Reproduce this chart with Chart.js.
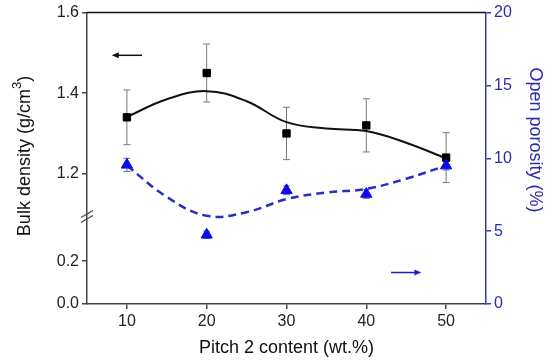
<!DOCTYPE html>
<html>
<head>
<meta charset="utf-8">
<script src="https://cdn.jsdelivr.net/npm/chart.js@4.4.1/dist/chart.umd.min.js"></script>
<style>
  html, body { margin: 0; padding: 0; background: #fff; }
  #wrap { position: relative; width: 550px; height: 362px; }
</style>
</head>
<body>
<div id="wrap"><canvas id="chart"></canvas></div>
<script>
// Measured points
const pitchContent = [10, 20, 30, 40, 50];
const bulkDensity = [1.34, 1.45, 1.30, 1.32, 1.24];
const bulkDensityErr = [0.068, 0.072, 0.065, 0.066, 0.062];
const openPorosity = [9.55, 4.75, 7.8, 7.55, 9.5];
const openPorosityErr = [0.45, 0.25, 0.3, 0.3, 0.3];

// Fitted curves
const fitX = [10, 15, 20, 25, 30, 35, 40, 45, 50];
const bulkDensityFit = [1.341, 1.385, 1.405, 1.380, 1.328, 1.312, 1.306, 1.277, 1.238];
const openPorosityFit = [9.5, 7.35, 6.05, 6.3, 7.2, 7.65, 7.9, 8.6, 9.5];

// Tick labels
const xTicks = [10, 20, 30, 40, 50];
const leftTickValues = [0, 0.2, 1.2, 1.4, 1.6];
const leftTickLabels = ['0.0', '0.2', '1.2', '1.4', '1.6'];
const rightTicks = [0, 5, 10, 15, 20];

// Direction arrows (which axis each series belongs to)
const bulkArrow = { from: 11.9, to: 8.1, y: 1.494 };
const porosityArrow = { from: 43.1, to: 46.9, y: 2.16 };

const FONT = '"Liberation Sans", Arial, sans-serif';
const BLUE_AXIS = '#3a3aa8';
const BLUE_TEXT = '#2b2bb0';

// Broken left axis: 0-0.4 lower part, 1.1-1.6 upper part
const AXIS_MAX = 293;
const BREAK_AT = 88;
function toAxis(d) {
  if (d <= 0.5) return d * 215;
  return AXIS_MAX - (1.6 - d) * 405;
}

const errorBars = {
  id: 'errorBars',
  beforeDatasetsDraw(chart) {
    const { ctx, scales } = chart;
    ctx.save();
    ctx.lineWidth = 1;
    ctx.strokeStyle = '#7a7a7a';
    const bar = (x, y1, y2) => {
      ctx.beginPath();
      ctx.moveTo(x, y1); ctx.lineTo(x, y2);
      ctx.moveTo(x - 3.5, y1); ctx.lineTo(x + 3.5, y1);
      ctx.moveTo(x - 3.5, y2); ctx.lineTo(x + 3.5, y2);
      ctx.stroke();
    };
    pitchContent.forEach((p, i) => {
      const x = scales.x.getPixelForValue(p);
      bar(x, scales.yL.getPixelForValue(toAxis(bulkDensity[i] + bulkDensityErr[i])),
             scales.yL.getPixelForValue(toAxis(bulkDensity[i] - bulkDensityErr[i])));
    });
    ctx.strokeStyle = '#6a6aa8';
    pitchContent.forEach((p, i) => {
      const x = scales.x.getPixelForValue(p);
      bar(x, scales.yR.getPixelForValue(openPorosity[i] + openPorosityErr[i]),
             scales.yR.getPixelForValue(openPorosity[i] - openPorosityErr[i]));
    });
    ctx.restore();
  }
};

const decorations = {
  id: 'decorations',
  afterDraw(chart) {
    const { ctx, chartArea, scales } = chart;
    ctx.save();
    // top frame line
    ctx.strokeStyle = '#111';
    ctx.lineWidth = 1.5;
    ctx.beginPath();
    ctx.moveTo(chartArea.left, chartArea.top);
    ctx.lineTo(chartArea.right, chartArea.top);
    ctx.stroke();

    // axis break marks
    const by = scales.yL.getPixelForValue(BREAK_AT);
    const bx = chartArea.left;
    ctx.strokeStyle = '#444';
    ctx.lineWidth = 1.2;
    [-2.5, 2.5].forEach(d => {
      ctx.beginPath();
      ctx.moveTo(bx - 6, by + d + 3.5);
      ctx.lineTo(bx + 6, by + d - 3.5);
      ctx.stroke();
    });

    // arrows
    const arrow = (x1, x2, y, color) => {
      ctx.strokeStyle = color;
      ctx.fillStyle = color;
      ctx.lineWidth = 1.5;
      const dir = Math.sign(x2 - x1);
      ctx.beginPath();
      ctx.moveTo(x1, y); ctx.lineTo(x2 - dir * 5, y);
      ctx.stroke();
      ctx.beginPath();
      ctx.moveTo(x2, y);
      ctx.lineTo(x2 - dir * 7, y - 3);
      ctx.lineTo(x2 - dir * 7, y + 3);
      ctx.closePath();
      ctx.fill();
    };
    arrow(scales.x.getPixelForValue(bulkArrow.from), scales.x.getPixelForValue(bulkArrow.to),
          scales.yL.getPixelForValue(toAxis(bulkArrow.y)), '#111');
    arrow(scales.x.getPixelForValue(porosityArrow.from), scales.x.getPixelForValue(porosityArrow.to),
          scales.yR.getPixelForValue(porosityArrow.y), '#1f1fc8');

    // y axis titles
    ctx.font = '18px ' + FONT;
    ctx.textBaseline = 'middle';
    ctx.fillStyle = '#111';
    ctx.save();
    ctx.translate(25, 156);
    ctx.rotate(-Math.PI / 2);
    const main = 'Bulk density (g/cm';
    ctx.font = '18px ' + FONT;
    const w1 = ctx.measureText(main).width;
    ctx.font = '13px ' + FONT;
    const w2 = ctx.measureText('3').width;
    ctx.font = '18px ' + FONT;
    const w3 = ctx.measureText(')').width;
    let x0 = -(w1 + w2 + w3) / 2;
    ctx.textAlign = 'left';
    ctx.fillText(main, x0, 0);
    ctx.font = '13px ' + FONT;
    ctx.fillText('3', x0 + w1, -8);
    ctx.font = '18px ' + FONT;
    ctx.fillText(')', x0 + w1 + w2, 0);
    ctx.restore();

    ctx.save();
    ctx.translate(535, 140);
    ctx.rotate(Math.PI / 2);
    ctx.textAlign = 'center';
    ctx.fillStyle = BLUE_TEXT;
    ctx.fillText('Open porosity (%)', 0, 0);
    ctx.restore();

    ctx.restore();
  }
};

new Chart(document.getElementById('chart'), {
  type: 'scatter',
  data: {
    datasets: [
      {
        label: 'Open porosity',
        yAxisID: 'yR',
        data: pitchContent.map((p, i) => ({ x: p, y: openPorosity[i] })),
        pointStyle: 'triangle',
        pointRadius: 6.5,
        backgroundColor: '#0a0aee',
        borderColor: '#0a0aee',
        borderWidth: 1,
        showLine: false
      },
      {
        label: 'Bulk density',
        yAxisID: 'yL',
        data: pitchContent.map((p, i) => ({ x: p, y: toAxis(bulkDensity[i]) })),
        pointStyle: 'rect',
        pointRadius: 5.2,
        backgroundColor: '#000',
        borderColor: '#000',
        borderWidth: 1,
        showLine: false
      },
      {
        label: 'Open porosity fit',
        yAxisID: 'yR',
        data: fitX.map((x, i) => ({ x, y: openPorosityFit[i] })),
        showLine: true,
        borderColor: '#2530c0',
        borderWidth: 2.5,
        borderDash: [8, 5],
        pointRadius: 0,
        tension: 0.4,
        fill: false
      },
      {
        label: 'Bulk density fit',
        yAxisID: 'yL',
        data: fitX.map((x, i) => ({ x, y: toAxis(bulkDensityFit[i]) })),
        showLine: true,
        borderColor: '#111',
        borderWidth: 2,
        pointRadius: 0,
        tension: 0.4,
        fill: false
      }
    ]
  },
  options: {
    responsive: true,
    maintainAspectRatio: false,
    animation: false,
    layout: { padding: { top: 11, left: 0, right: 0, bottom: 0 } },
    plugins: {
      legend: { display: false },
      tooltip: { enabled: false }
    },
    scales: {
      x: {
        type: 'linear',
        min: 5,
        max: 55,
        afterBuildTicks: scale => { scale.ticks = xTicks.map(v => ({ value: v })); },
        afterFit: scale => { scale.height = 58; },
        grid: { drawOnChartArea: false, drawTicks: true, tickLength: 5, color: '#444', lineWidth: 1.5 },
        border: { color: '#444', width: 1.5 },
        ticks: { color: '#222', font: { family: FONT, size: 16 }, padding: 3 },
        title: {
          display: true,
          text: 'Pitch 2 content (wt.%)',
          color: '#111',
          font: { family: FONT, size: 18 },
          padding: { top: 0, bottom: 3 }
        }
      },
      yL: {
        type: 'linear',
        position: 'left',
        min: 0,
        max: AXIS_MAX,
        afterBuildTicks: scale => { scale.ticks = leftTickValues.map(v => ({ value: toAxis(v) })); },
        afterFit: scale => { scale.width = 87; },
        grid: { drawOnChartArea: false, drawTicks: true, tickLength: 5, color: '#444', lineWidth: 1.5 },
        border: { color: '#444', width: 1.5 },
        ticks: {
          color: '#222',
          font: { family: FONT, size: 16 },
          padding: 3,
          callback: (value, index) => leftTickLabels[index]
        }
      },
      yR: {
        type: 'linear',
        position: 'right',
        min: 0,
        max: 20,
        afterBuildTicks: scale => { scale.ticks = rightTicks.map(v => ({ value: v })); },
        afterFit: scale => { scale.width = 64; },
        grid: { drawOnChartArea: false, drawTicks: true, tickLength: 5, color: BLUE_AXIS, lineWidth: 1.5 },
        border: { color: BLUE_AXIS, width: 1.5 },
        ticks: { color: BLUE_TEXT, font: { family: FONT, size: 16 }, padding: 3 }
      }
    }
  },
  plugins: [errorBars, decorations]
});
</script>
</body>
</html>
